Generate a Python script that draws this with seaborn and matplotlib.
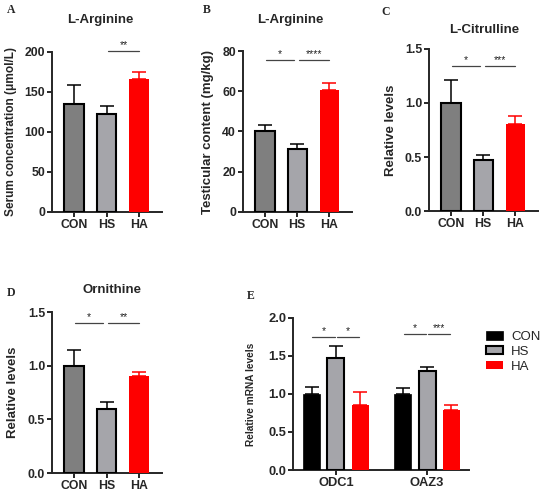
import numpy as np
import pandas as pd
import matplotlib
matplotlib.use("Agg")
import matplotlib.pyplot as plt
import seaborn as sns

# ---------------- data ----------------
groups = ["CON", "HS", "HA"]

arg_serum = [135, 123, 166]
arg_serum_err = [24, 9, 9]

arg_testis = [40.2, 31.5, 60.5]
arg_testis_err = [3.0, 2.5, 3.5]

citrulline = [1.00, 0.475, 0.81]
citrulline_err = [0.21, 0.045, 0.065]

ornithine = [1.00, 0.60, 0.90]
ornithine_err = [0.15, 0.065, 0.04]

genes = ["ODC1", "OAZ3"]
mrna_con = [1.00, 1.00]
mrna_hs = [1.47, 1.30]
mrna_ha = [0.86, 0.79]
mrna_con_err = [0.09, 0.08]
mrna_hs_err = [0.16, 0.06]
mrna_ha_err = [0.17, 0.07]

# significance: (group i, group j, height, label)
sig_a = [(1, 2, 201, "**")]
sig_b = [(0, 1, 75.5, "*"), (1, 2, 75.5, "****")]
sig_c = [(0, 1, 1.34, "*"), (1, 2, 1.34, "***")]
sig_d = [(0, 1, 1.40, "*"), (1, 2, 1.40, "**")]
sig_e = [(0, 0, 1, 1.75, "*"), (0, 1, 2, 1.75, "*"),
         (1, 0, 1, 1.79, "*"), (1, 1, 2, 1.79, "***")]

# ---------------- style ----------------
sns.set_style("ticks")
plt.rcParams["font.family"] = ["Liberation Sans", "DejaVu Sans"]
plt.rcParams["axes.linewidth"] = 1.4

W, H = 550, 498
fig = plt.figure(figsize=(W / 100, H / 100), dpi=100)

C_CON = "#7F7F7F"
C_HS = "#A5A5AA"
C_HA = "#FE0000"
pal = {"CON": C_CON, "HS": C_HS, "HA": C_HA}


def rect(l, r, t, b):
    return [l / W, 1 - b / H, (r - l) / W, (b - t) / H]


def style_axes(ax, tick_fs):
    sns.despine(ax=ax)
    ax.tick_params(axis="both", direction="out", length=3.5, width=1.4,
                   labelsize=tick_fs, pad=1.5)
    for lab in ax.get_xticklabels() + ax.get_yticklabels():
        lab.set_fontweight("bold")


def simple_panel(rc, vals, errs, ylim, yticks, fmt, ylabel, ylab_x, ylab_fs,
                 sigs, title, title_xy, letter, letter_xy):
    ax = fig.add_axes(rect(*rc))
    sns.barplot(x=groups, y=vals, hue=groups, palette=pal, legend=False,
                width=0.6, errorbar=None, saturation=1, ax=ax, zorder=3)
    bars = sorted(ax.patches, key=lambda p: p.get_x())
    centers = []
    for p, g, v, e in zip(bars, groups, vals, errs):
        cx = p.get_x() + p.get_width() / 2
        centers.append(cx)
        if g == "HA":
            p.set_edgecolor("none")
            ecol = C_HA
        else:
            p.set_edgecolor("black")
            p.set_linewidth(1.5)
            ecol = "black"
        ax.errorbar([cx], [v], yerr=[[0], [e]], fmt="none", ecolor=ecol,
                    elinewidth=1.1, capsize=5, capthick=1.1, zorder=2)
    ax.set_xlim(-0.68, 2.7)
    ax.set_ylim(*ylim)
    ax.set_yticks(yticks)
    ax.set_yticklabels([fmt.format(t) for t in yticks])
    style_axes(ax, 8.8)
    ax.set_ylabel(ylabel, fontsize=ylab_fs, fontweight="bold")
    ax.yaxis.set_label_coords((ylab_x - rc[0]) / (rc[1] - rc[0]), 0.5)
    for i, j, y, lab in sigs:
        x1 = centers[i] + 0.02
        x2 = centers[j] - 0.1 if i == 0 else centers[j]
        if i == 1:
            x1 = centers[i] + 0.05
        ax.plot([x1, x2], [y, y], color="#444444", lw=0.9, clip_on=False)
        ax.text((x1 + x2) / 2, y + (ylim[1] - ylim[0]) * 0.005, lab,
                ha="center", va="bottom", fontsize=7.5, color="#222222",
                clip_on=False)
    fig.text(title_xy[0] / W, 1 - title_xy[1] / H, title, ha="center",
             va="center", fontsize=9.5, fontweight="bold")
    fig.text(letter_xy[0] / W, 1 - letter_xy[1] / H, letter, ha="center",
             va="center", fontsize=8.5, fontweight="bold",
             family=["Liberation Serif", "DejaVu Serif"])
    return ax


simple_panel((52, 162, 52, 212), arg_serum, arg_serum_err, (0, 200),
             [0, 50, 100, 150, 200], "{:.0f}",
             "Serum concentration (μmol/L)", 17, 8.6, sig_a,
             "L-Arginine", (100, 20), "A", (11, 10))
simple_panel((243, 352, 51, 212), arg_testis, arg_testis_err, (0, 80),
             [0, 20, 40, 60, 80], "{:.0f}",
             "Testicular content (mg/kg)", 214, 9.5, sig_b,
             "L-Arginine", (290, 20), "B", (207, 10))
simple_panel((429, 538, 49, 211), citrulline, citrulline_err, (0, 1.5),
             [0, 0.5, 1.0, 1.5], "{:.1f}",
             "Relative levels", 397, 9.5, sig_c,
             "L-Citrulline", (484, 30), "C", (386, 12))
simple_panel((52, 162, 312, 473), ornithine, ornithine_err, (0, 1.5),
             [0, 0.5, 1.0, 1.5], "{:.1f}",
             "Relative levels", 19, 9.5, sig_d,
             "Ornithine", (112, 290), "D", (11, 293))

# ---------------- panel E ----------------
rcE = (293, 469, 318, 470)
axE = fig.add_axes(rect(*rcE))
df = pd.DataFrame({
    "gene": genes * 3,
    "group": ["CON"] * 2 + ["HS"] * 2 + ["HA"] * 2,
    "value": mrna_con + mrna_hs + mrna_ha,
})
errs_by_group = {"CON": mrna_con_err, "HS": mrna_hs_err, "HA": mrna_ha_err}
palE = {"CON": "#000000", "HS": C_HS, "HA": C_HA}
sns.barplot(data=df, x="gene", y="value", hue="group", palette=palE,
            hue_order=groups, order=genes, width=0.8, gap=0.3,
            errorbar=None, saturation=1, ax=axE, zorder=3)
if axE.get_legend() is not None:
    axE.get_legend().remove()
bar_conts = list(axE.containers)
centersE = {}
for cont, g in zip(bar_conts, groups):
    for k, p in enumerate(cont.patches):
        cx = p.get_x() + p.get_width() / 2
        centersE[(k, g)] = cx
        v = p.get_height()
        if g == "HS":
            p.set_edgecolor("black")
            p.set_linewidth(1.5)
            ecol = "black"
        elif g == "HA":
            p.set_edgecolor("none")
            ecol = C_HA
        else:
            p.set_edgecolor("black")
            p.set_linewidth(0.5)
            ecol = "black"
        axE.errorbar([cx], [v], yerr=[[0], [errs_by_group[g][k]]], fmt="none",
                     ecolor=ecol, elinewidth=1.1, capsize=5, capthick=1.1,
                     zorder=2)
axE.set_xlim(-0.47, 1.46)
axE.set_ylim(0, 2.0)
axE.set_yticks([0, 0.5, 1.0, 1.5, 2.0])
axE.set_yticklabels(["0.0", "0.5", "1.0", "1.5", "2.0"])
axE.set_xlabel("")
style_axes(axE, 9.3)
axE.set_ylabel("Relative mRNA levels", fontsize=7.3, fontweight="bold")
axE.yaxis.set_label_coords((256 - rcE[0]) / (rcE[1] - rcE[0]), 0.5)
for k, i, j, y, lab in sig_e:
    x1 = centersE[(k, groups[i])] + 0.01
    x2 = centersE[(k, groups[j])] - 0.01
    axE.plot([x1, x2], [y, y], color="#444444", lw=0.9, clip_on=False)
    axE.text((x1 + x2) / 2, y + 0.01, lab, ha="center", va="bottom",
             fontsize=7.5, color="#222222", clip_on=False)
handles = [cont.patches[0] for cont in bar_conts]
axE.legend(handles, groups, loc="upper left",
           bbox_to_anchor=((486 - rcE[0]) / (rcE[1] - rcE[0]),
                           1 - (331 - rcE[2]) / (rcE[3] - rcE[2])),
           frameon=False, fontsize=9.5, handlelength=1.3, handleheight=0.6,
           handletextpad=0.6, labelspacing=0.22, borderaxespad=0,
           borderpad=0)
fig.text(251 / W, 1 - 296 / H, "E", ha="center", va="center", fontsize=8.5,
         fontweight="bold", family=["Liberation Serif", "DejaVu Serif"])

fig.savefig("out.png", dpi=100)
